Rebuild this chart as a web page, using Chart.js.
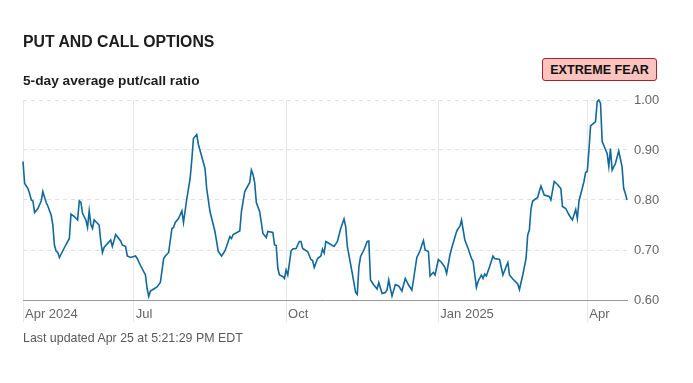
<!DOCTYPE html>
<html>
<head>
<meta charset="utf-8">
<script src="https://cdn.jsdelivr.net/npm/chart.js@4.4.1/dist/chart.umd.min.js"></script>
<style>
  body { margin: 0; background: #fff; font-family: "Liberation Sans", Arial, sans-serif; }
  #wrap { position: relative; width: 693px; height: 383px; }
  #chart { position: absolute; left: 0; top: 0; }
  .title { position: absolute; left: 23px; top: 34px; font-size: 15.8px; line-height: 1; font-weight: bold; color: #1c1c1c; }
  .subtitle { position: absolute; left: 23px; top: 74px; font-size: 13.7px; line-height: 1; font-weight: bold; color: #1c1c1c; }
  .badge { position: absolute; left: 542px; top: 58px; width: 115px; height: 23px; box-sizing: border-box;
           border: 1px solid #b01e32; border-radius: 3px; background: #fdc3bf; color: #111;
           font-size: 12.6px; font-weight: bold; display: flex; align-items: center; justify-content: center; }
  .footer { position: absolute; left: 23px; top: 332px; font-size: 12.4px; line-height: 1; color: #595959; }
</style>
</head>
<body>
<div id="wrap">
  <canvas id="chart" width="693" height="383"></canvas>
  <div class="title">PUT AND CALL OPTIONS</div>
  <div class="subtitle">5-day average put/call ratio</div>
  <div class="badge">EXTREME FEAR</div>
  <div class="footer">Last updated Apr 25 at 5:21:29 PM EDT</div>
</div>
<script>
// days since Apr 25 2024
const days = [
  0,1,3,4,5,6,7,9,11,12,
  14,15,17,18,19,20,21,22,24,26,
  28,29,31,33,34,35,36,38,39,40,
  41,42,43,46,47,48,49,53,54,56,
  59,60,62,63,65,68,69,71,74,75,
  76,77,79,81,83,85,86,88,90,91,
  92,94,96,97,99,101,102,103,105,106,
  110,111,113,116,118,120,122,123,125,126,
  127,131,132,134,137,138,139,140,141,143,
  145,147,148,151,152,153,154,155,157,158,
  159,160,162,163,165,167,168,169,172,174,
  175,176,178,180,181,182,183,185,188,190,
  192,194,195,196,199,201,202,203,204,206,
  208,209,210,212,214,215,217,219,220,221,
  222,223,225,227,229,231,233,235,236,238,
  240,241,242,243,245,246,247,248,249,251,
  253,255,256,258,259,262,263,264,265,267,
  269,271,272,274,275,277,278,279,280,282,
  284,285,288,290,292,293,294,296,299,300,
  302,304,305,306,307,308,311,312,313,315,
  318,319,321,323,325,326,328,330,332,334,
  335,336,339,340,341,342,343,346,347,348,
  349,350,353,354,355,356,358,360,362,363,
  364,365
];

const putCallRatio = [
  .877,.833,.823,.813,.800,.798,.775,.783,.798,.817,
  .795,.788,.770,.751,.710,.698,.695,.685,.698,.711,
  .723,.772,.767,.760,.798,.795,.773,.760,.745,.778,
  .751,.743,.760,.750,.717,.695,.705,.720,.707,.731,
  .718,.710,.707,.688,.685,.688,.683,.669,.650,.623,
  .607,.618,.622,.626,.635,.683,.688,.695,.743,.745,
  .755,.763,.778,.755,.803,.843,.880,.923,.931,.911,
  .863,.823,.777,.737,.697,.688,.698,.707,.727,.723,
  .731,.738,.777,.817,.835,.860,.851,.835,.795,.777,
  .733,.725,.737,.735,.710,.709,.663,.650,.647,.643,
  .660,.650,.698,.702,.703,.717,.717,.703,.697,.681,
  .679,.665,.683,.688,.702,.694,.717,.713,.707,.717,
  .743,.762,.747,.707,.653,.615,.611,.667,.687,.700,
  .717,.718,.640,.630,.622,.635,.613,.615,.620,.640,
  .623,.608,.631,.628,.618,.643,.630,.620,.641,.685,
  .699,.710,.719,.700,.697,.648,.652,.655,.650,.681,
  .675,.665,.653,.690,.703,.737,.743,.747,.760,.720,
  .703,.683,.677,.625,.637,.650,.643,.652,.648,.667,
  .688,.683,.681,.650,.667,.675,.650,.642,.632,.621,
  .650,.683,.730,.740,.783,.798,.805,.817,.828,.810,
  .807,.800,.837,.831,.823,.787,.783,.770,.760,.781,
  .763,.798,.837,.855,.857,.900,.948,.957,.997,1.000,
  .993,.917,.893,.867,.903,.860,.873,.898,.867,.823,
  .813,.800
];

const tickDays = [0, 67, 159, 251, 341];
const tickLabels = ['Apr 2024', 'Jul', 'Oct', 'Jan 2025', 'Apr'];
const yTicks = [0.6, 0.7, 0.8, 0.9, 1.0];

const points = days.map((d, i) => ({ x: d, y: putCallRatio[i] }));

new Chart(document.getElementById('chart'), {
  type: 'line',
  data: {
    datasets: [{
      data: points,
      borderColor: '#11689a',
      borderWidth: 1.6,
      pointRadius: 0,
      tension: 0,
      clip: false
    }]
  },
  options: {
    responsive: false,
    animation: false,
    layout: { padding: { left: 23, top: 100, right: 0, bottom: 0 } },
    plugins: { legend: { display: false }, tooltip: { enabled: false } },
    scales: {
      x: {
        type: 'linear',
        min: 0,
        max: 365,
        afterFit: s => { s.height = 83; },
        afterBuildTicks: s => { s.ticks = tickDays.map(v => ({ value: v })); },
        grid: { color: '#e8e8e8', lineWidth: 1, drawTicks: true, tickLength: 22, tickColor: '#e8e8e8' },
        border: { display: true, color: '#9a9a9a', width: 1 },
        ticks: {
          autoSkip: false,
          maxRotation: 0,
          align: 'start',
          labelOffset: 2,
          padding: -15,
          color: '#666',
          font: { family: '"Liberation Sans", Arial, sans-serif', size: 13 },
          callback: v => tickLabels[tickDays.indexOf(v)]
        }
      },
      y: {
        position: 'right',
        min: 0.6,
        max: 1.0,
        afterFit: s => { s.width = 66; },
        afterBuildTicks: s => { s.ticks = yTicks.map(v => ({ value: v })); },
        grid: {
          drawTicks: false,
          color: c => Math.abs(c.tick.value - 0.6) < 1e-6 ? 'transparent' : '#e0e0e0'
        },
        border: { display: false, dash: [4, 4] },
        ticks: {
          padding: 7,
          color: '#666',
          font: { family: '"Liberation Sans", Arial, sans-serif', size: 13 },
          callback: v => v.toFixed(2)
        }
      }
    }
  }
});
</script>
</body>
</html>
